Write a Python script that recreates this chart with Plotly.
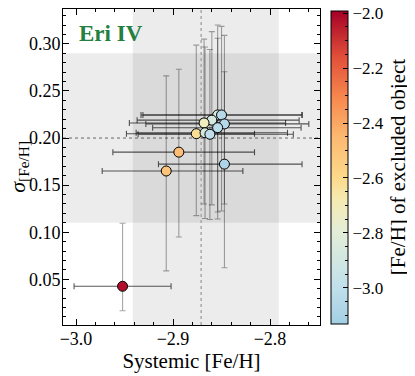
import plotly.graph_objects as go

# jackknife results: systemic [Fe/H] and dispersion with one star excluded
feh_sys = [-2.854, -2.850, -2.860, -2.868, -2.847, -2.854, -2.876, -2.867, -2.862,
           -2.894, -2.847, -2.907, -2.952]
feh_sys_lo = [0.077, 0.083, 0.077, 0.077, 0.081, 0.067, 0.072, 0.071, 0.074,
              0.068, 0.068, 0.066, 0.050]
feh_sys_hi = [0.087, 0.083, 0.090, 0.084, 0.087, 0.086, 0.060, 0.085, 0.086,
              0.078, 0.080, 0.079, 0.050]
sigma = [0.2245, 0.2245, 0.219, 0.216, 0.215, 0.211, 0.2046, 0.2056, 0.204,
         0.185, 0.1723, 0.165, 0.0426]
sigma_lo = [0.103, 0.102, 0.090, 0.086, 0.085, 0.097, 0.087, 0.091, 0.0905,
            0.090, 0.110, 0.106, 0.026]
sigma_hi = [0.0955, 0.094, 0.094, 0.089, 0.094, 0.095, 0.094, 0.091, 0.090,
            0.088, 0.098, 0.101, 0.067]
feh_excluded = [-2.85, -3.05, -2.88, -2.72, -3.05, -3.02, -2.62, -2.87, -3.00,
                -2.47, -3.08, -2.50, -2.02]

# systemic values of the full sample (band = uncertainty)
feh_all, feh_all_lo, feh_all_hi = -2.871, -2.9415, -2.791
sig_all, sig_all_lo, sig_all_hi = 0.200, 0.110, 0.290

cscale = [[0.0, "#a3cfe3"], [0.12, "#c1e0eb"], [0.3, "#e4eed6"], [0.4, "#f6eab0"],
          [0.47, "#fcd98a"], [0.6, "#fcb870"], [0.72, "#f7894f"], [0.85, "#e2513a"],
          [1.0, "#a50026"]]
CMIN, CMAX = -3.13, -1.99

FONT = "Liberation Serif"
cbar_pos = dict(x=1.043, xanchor="left", xpad=0, ypad=0, thickness=17, len=0.99,
                y=0.5, yanchor="middle")

fig = go.Figure()

fig.add_vrect(x0=feh_all_lo, x1=feh_all_hi, fillcolor="rgba(0,0,0,0.075)",
              line_width=0, layer="below")
fig.add_hrect(y0=sig_all_lo, y1=sig_all_hi, fillcolor="rgba(0,0,0,0.075)",
              line_width=0, layer="below")
fig.add_vline(x=feh_all, line=dict(color="#a8a8a8", width=1.5, dash="dot"), layer="below")
fig.add_hline(y=sig_all, line=dict(color="#444444", width=0.8, dash="dot"), layer="below")

fig.add_trace(go.Scatter(
    x=feh_sys, y=sigma, mode="markers",
    error_x=dict(type="data", symmetric=False, array=feh_sys_hi, arrayminus=feh_sys_lo,
                 color="rgba(0,0,0,0.65)", thickness=1.1, width=3),
    error_y=dict(type="data", symmetric=False, array=sigma_hi, arrayminus=sigma_lo,
                 color="rgba(0,0,0,0.35)", thickness=1.1, width=3),
    marker=dict(size=10, color=feh_excluded, colorscale=cscale, cmin=CMIN, cmax=CMAX,
                line=dict(color="black", width=1),
                colorbar=dict(**cbar_pos,
                              outlinewidth=1, outlinecolor="black",
                              ticks="inside", ticklen=5, tickcolor="black",
                              dtick=0.2, tick0=-2.0, tickformat=".1f",
                              ticklabeloverflow="allow",
                              tickfont=dict(family=FONT, size=17, color="black"),
                              title=dict(text="[Fe/H] of excluded object", side="right",
                                         font=dict(family=FONT, size=21, color="black")))),
    showlegend=False,
))

# transparent twin colorbar just for the minor ticks
fig.add_trace(go.Scatter(
    x=feh_sys, y=sigma, mode="markers", hoverinfo="skip", showlegend=False,
    marker=dict(size=10, opacity=0, color=feh_excluded, cmin=CMIN, cmax=CMAX,
                colorscale=[[0, "rgba(0,0,0,0)"], [1, "rgba(0,0,0,0)"]],
                colorbar=dict(**cbar_pos, outlinewidth=0, ticks="inside", ticklen=3,
                              tickcolor="black", dtick=0.05, tick0=-2.0,
                              showticklabels=False)),
))

fig.add_annotation(x=0.054, y=0.921, xref="paper", yref="paper", xanchor="left",
                   yanchor="middle", showarrow=False, text="<b>Eri IV</b>",
                   font=dict(family=FONT, size=23, color="#23803f"))
fig.add_annotation(x=-0.172, y=0.5, xref="paper", yref="paper", xanchor="center",
                   yanchor="middle", showarrow=False, textangle=-90,
                   text="<i>σ</i><sub>[Fe/H]</sub>",
                   font=dict(family=FONT, size=22, color="black"))

axis_common = dict(ticks="inside", mirror="allticks", showline=True, linecolor="black",
                   linewidth=1, ticklen=6, tickcolor="black", showgrid=False, zeroline=False,
                   tickfont=dict(family=FONT, size=18, color="black"))

fig.update_xaxes(range=[-3.0134, -2.7485], dtick=0.1, tick0=-3.0, tickformat=".1f",
                 minor=dict(ticks="inside", dtick=0.02, ticklen=3, tickcolor="black"),
                 ticklabelstandoff=-3,
                 title=dict(text="Systemic [Fe/H]", font=dict(family=FONT, size=21,
                                                             color="black"), standoff=2),
                 **axis_common)
fig.update_yaxes(range=[0.0015, 0.337], dtick=0.05, tick0=0, tickformat=".2f",
                 minor=dict(ticks="inside", dtick=0.01, ticklen=3, tickcolor="black"),
                 ticklabelstandoff=-2,
                 **axis_common)

# the page adds an 8px body margin, so the figure is drawn 8px smaller
fig.update_layout(width=407, height=368,
                  margin=dict(l=55, r=95, t=1, b=51, autoexpand=False),
                  plot_bgcolor="white", paper_bgcolor="white",
                  font=dict(family=FONT, color="black"))

fig.write_html("out.html")
